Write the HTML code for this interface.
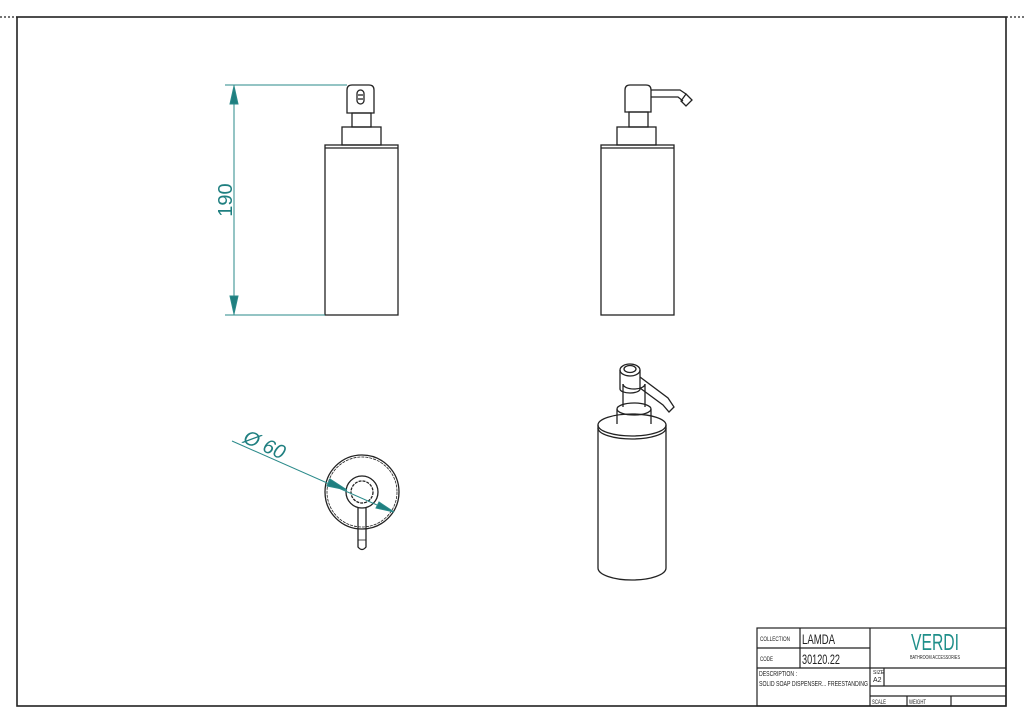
<!DOCTYPE html>
<html><head><meta charset="utf-8"><style>
html,body{margin:0;padding:0;background:#fff;}
svg{display:block;font-family:"Liberation Sans",sans-serif;}
</style></head><body>
<svg width="1024" height="724" viewBox="0 0 1024 724" xmlns="http://www.w3.org/2000/svg">
<g fill="none" stroke="#222" stroke-width="1.3">
<line x1="0" y1="17" x2="17" y2="17" stroke-dasharray="2,2"/>
<line x1="1006" y1="17" x2="1024" y2="17" stroke-dasharray="2,2"/>
<rect x="17" y="17" width="989" height="689" stroke-width="1.6"/>

<path d="M347,113 V90 Q347,85 352,85 H369 Q374,85 374,90 V113 Z"/>
<rect x="357" y="90" width="7" height="14" rx="3.5"/>
<line x1="358" y1="95" x2="363" y2="95"/><line x1="358" y1="99" x2="363" y2="99"/>
<rect x="352" y="113" width="19" height="14"/>
<rect x="342" y="127" width="39" height="18"/>
<rect x="325" y="145" width="73" height="170"/>
<line x1="325" y1="148" x2="398" y2="148"/>

<path d="M625,112 V90 Q625,85 630,85 H646 Q651,85 651,90 V112 Z"/>
<path d="M651,90 H680 L686,94 M651,97 H678 L683,101"/>
<path d="M686,94 L692,100 L686,106 L681,101 Z"/>
<rect x="629" y="112" width="19" height="15"/>
<rect x="617" y="127" width="39" height="18"/>
<rect x="601" y="145" width="73" height="170"/>
<line x1="601" y1="148" x2="674" y2="148"/>

<circle cx="362" cy="492" r="37"/>
<circle cx="362" cy="492" r="35" stroke-dasharray="3,1" stroke-width="0.8"/>
<circle cx="362" cy="492" r="16"/>
<circle cx="362" cy="492" r="11" stroke-dasharray="3,1"/>
<path d="M358,508 V547 Q362,552 366,547 V508"/>
<line x1="358" y1="540" x2="366" y2="540" stroke-width="0.8"/>

<line x1="598" y1="425" x2="598" y2="568"/>
<line x1="666" y1="425" x2="666" y2="568"/>
<path d="M598,568 A34,12 0 0 0 666,568"/>
<ellipse cx="632" cy="425" rx="34" ry="11"/>
<path d="M598,428 A34,11 0 0 0 666,428"/>
<ellipse cx="634" cy="409" rx="17" ry="6"/>
<line x1="617" y1="409" x2="617" y2="424"/>
<line x1="651" y1="409" x2="651" y2="424"/>
<line x1="623" y1="384" x2="623" y2="407"/>
<line x1="645" y1="384" x2="645" y2="407"/>
<path d="M623,384 A11,5 0 0 0 645,384"/>
<line x1="620" y1="370" x2="620" y2="389"/>
<line x1="640" y1="370" x2="640" y2="389"/>
<ellipse cx="630" cy="370" rx="10" ry="6"/>
<ellipse cx="630" cy="369" rx="6" ry="3.5"/>
<path d="M620,389 A10,4 0 0 0 640,389"/>
<path d="M640,377 L668,398 L674,407 L669,412 L663,405 L640,388"/>
</g>

<g stroke="#2a8a8a" stroke-width="1" fill="#1f7f80">
<line x1="225" y1="85" x2="347" y2="85"/>
<line x1="225" y1="315" x2="325" y2="315"/>
<line x1="234" y1="85" x2="234" y2="315"/>
<path d="M234,86 L230,104 L238,104 Z"/>
<path d="M234,314 L230,296 L238,296 Z"/>
<line x1="232" y1="441" x2="393" y2="512"/>
<path d="M347,490 L330,479 L327,486 Z"/>
<path d="M394,512 L376,508 L379,502 Z"/>
</g>
<text x="0" y="0" transform="translate(232,200) rotate(-90)" font-size="20" fill="#1f7f80" text-anchor="middle">190</text>
<text x="0" y="0" transform="translate(242,442) rotate(24)" font-size="20" fill="#1f7f80" font-style="italic">Ø 60</text>

<g fill="none" stroke="#222" stroke-width="1.2">
<rect x="757" y="628" width="249" height="78"/>
<line x1="757" y1="648" x2="870" y2="648"/>
<line x1="757" y1="668" x2="1006" y2="668"/>
<line x1="870" y1="686" x2="1006" y2="686"/>
<line x1="870" y1="696" x2="1006" y2="696"/>
<line x1="870" y1="628" x2="870" y2="706"/>
<line x1="800" y1="628" x2="800" y2="668"/>
<line x1="884" y1="668" x2="884" y2="686"/>
<line x1="907" y1="696" x2="907" y2="706"/>
<line x1="951" y1="696" x2="951" y2="706"/>
</g>
<g fill="#222">
<text x="760" y="641" font-size="6" textLength="30" lengthAdjust="spacingAndGlyphs">COLLECTION</text>
<text x="802" y="644" font-size="14" textLength="33" lengthAdjust="spacingAndGlyphs">LAMDA</text>
<text x="760" y="661" font-size="6" textLength="13" lengthAdjust="spacingAndGlyphs">CODE</text>
<text x="802" y="664" font-size="14" textLength="38" lengthAdjust="spacingAndGlyphs">30120.22</text>
<text x="759" y="676" font-size="7" textLength="38" lengthAdjust="spacingAndGlyphs">DESCRIPTION :</text>
<text x="759" y="686" font-size="7" textLength="109" lengthAdjust="spacingAndGlyphs">SOLID SOAP DISPENSER... FREESTANDING</text>
<text x="873" y="674" font-size="5">SIZE</text>
<text x="873" y="682" font-size="7">A2</text>
<text x="872" y="704" font-size="6" textLength="14" lengthAdjust="spacingAndGlyphs">SCALE</text>
<text x="909" y="704" font-size="6" textLength="17" lengthAdjust="spacingAndGlyphs">WEIGHT</text>
<text x="935" y="650" font-size="23" fill="#1f8f8a" text-anchor="middle" textLength="48" lengthAdjust="spacingAndGlyphs">VERDI</text>
<text x="935" y="659" font-size="5" text-anchor="middle" textLength="50" lengthAdjust="spacingAndGlyphs">BATHROOM ACCESSORIES</text>
</g>
</svg>
</body></html>
